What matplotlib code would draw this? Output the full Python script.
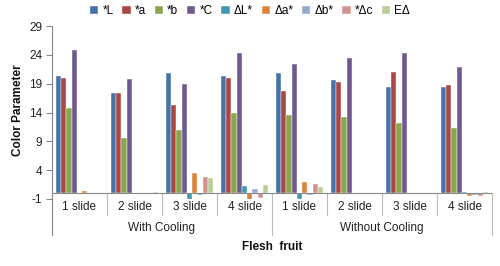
import matplotlib
matplotlib.use("Agg")
import matplotlib.pyplot as plt
import numpy as np

plt.rcParams['font.family'] = ['Liberation Sans', 'DejaVu Sans']
plt.rcParams['axes.unicode_minus'] = False

categories = ["1 slide", "2 slide", "3 slide", "4 slide",
              "1 slide", "2 slide", "3 slide", "4 slide"]
groups = ["With Cooling", "Without Cooling"]
series_names = ["*L", "*a", "*b", "*C", "ΔL*", "Δa*", "Δb*", "*Δc", "EΔ"]

L = [20.4, 17.3, 20.8, 20.3, 20.85, 19.6, 18.5, 18.4]
a = [20.0, 17.3, 15.3, 20.0, 17.7, 19.3, 21.0, 18.7]
b = [14.7, 9.5, 11.0, 13.9, 13.6, 13.3, 12.2, 11.4]
C = [24.8, 19.8, 18.9, 24.4, 22.4, 23.4, 24.3, 21.9]
dL = [0.0, 0.1, -1.2, 1.27, -1.0, 0.05, 0.05, 0.2]
da = [0.35, -0.2, 3.5, -1.2, 1.96, 0.0, 0.0, -0.4]
db = [0.0, 0.0, -0.3, 0.7, -0.3, 0.05, 0.1, -0.3]
dc = [0.0, -0.2, 2.8, -0.87, 1.67, 0.0, -0.1, -0.5]
dE = [0.0, 0.15, 2.6, 1.44, 1.1, 0.0, 0.05, 0.2]

series = [L, a, b, C, dL, da, db, dc, dE]
colors = ["#4572A7", "#AA4643", "#89A54E", "#71588F", "#4198AF",
          "#DB843D", "#93A9CF", "#D19392", "#B9CD96"]

fig = plt.figure(figsize=(5.0, 2.66), dpi=100)
ax = fig.add_axes([0.104, 0.252, 0.88, 0.650])

x = np.arange(len(categories))
n = len(series)
w = 0.0955
handles = []
for i, (vals, col, name) in enumerate(zip(series, colors, series_names)):
    pos = x - n * w / 2 + (i + 0.5) * w
    h = ax.bar(pos, vals, width=w, color=col, edgecolor="white", linewidth=0.3,
               label=name, zorder=2)
    handles.append(h)

ax.set_xlim(-0.5, 7.5)
ax.set_ylim(-1, 29)
ax.set_yticks(np.arange(-1, 30, 5))
ax.set_xticks([])
for s in ["top", "right", "bottom"]:
    ax.spines[s].set_visible(False)
gray = "#888888"
ax.spines["left"].set_color(gray)
ax.spines["left"].set_linewidth(0.8)
ax.tick_params(axis="y", length=4, width=0.8, color=gray, labelsize=8.5,
               labelcolor="#222222", pad=3)

# zero baseline
ax.axhline(0, color=gray, linewidth=0.8, zorder=3)

# separators
for k in range(1, 8):
    xs = k - 0.5
    y_end = -7.2 if k == 4 else -3.8
    ax.plot([xs, xs], [0, y_end], color="#bbbbbb", linewidth=0.8, clip_on=False)
ax.plot([-0.5, -0.5], [-1, -7.2], color=gray, linewidth=0.8, clip_on=False)
ax.plot([7.5, 7.5], [0, -7.2], color="#bbbbbb", linewidth=0.8, clip_on=False)

for xi, c in zip(x, categories):
    ax.text(xi, -2.35, c, ha="center", va="center", fontsize=8.5, color="#222222")
ax.text(1.5, -6.0, groups[0], ha="center", va="center", fontsize=8.5, color="#222222")
ax.text(5.5, -6.0, groups[1], ha="center", va="center", fontsize=8.5, color="#222222")
ax.text(3.5, -9.35, "Flesh  fruit", ha="center", va="center", fontsize=8.5,
        fontweight="bold", color="#111111")

fig.text(0.036, 0.585, "Color Parameter", rotation=90, ha="center", va="center",
         fontsize=8.5, fontweight="bold", color="#111111")

fig.legend(handles=handles, loc="center", bbox_to_anchor=(0.5, 0.957), ncol=9,
           frameon=False, fontsize=8.5, handlelength=0.7, handleheight=0.7,
           handletextpad=0.35, columnspacing=0.75, borderpad=0)

fig.savefig("out.png", dpi=100)
